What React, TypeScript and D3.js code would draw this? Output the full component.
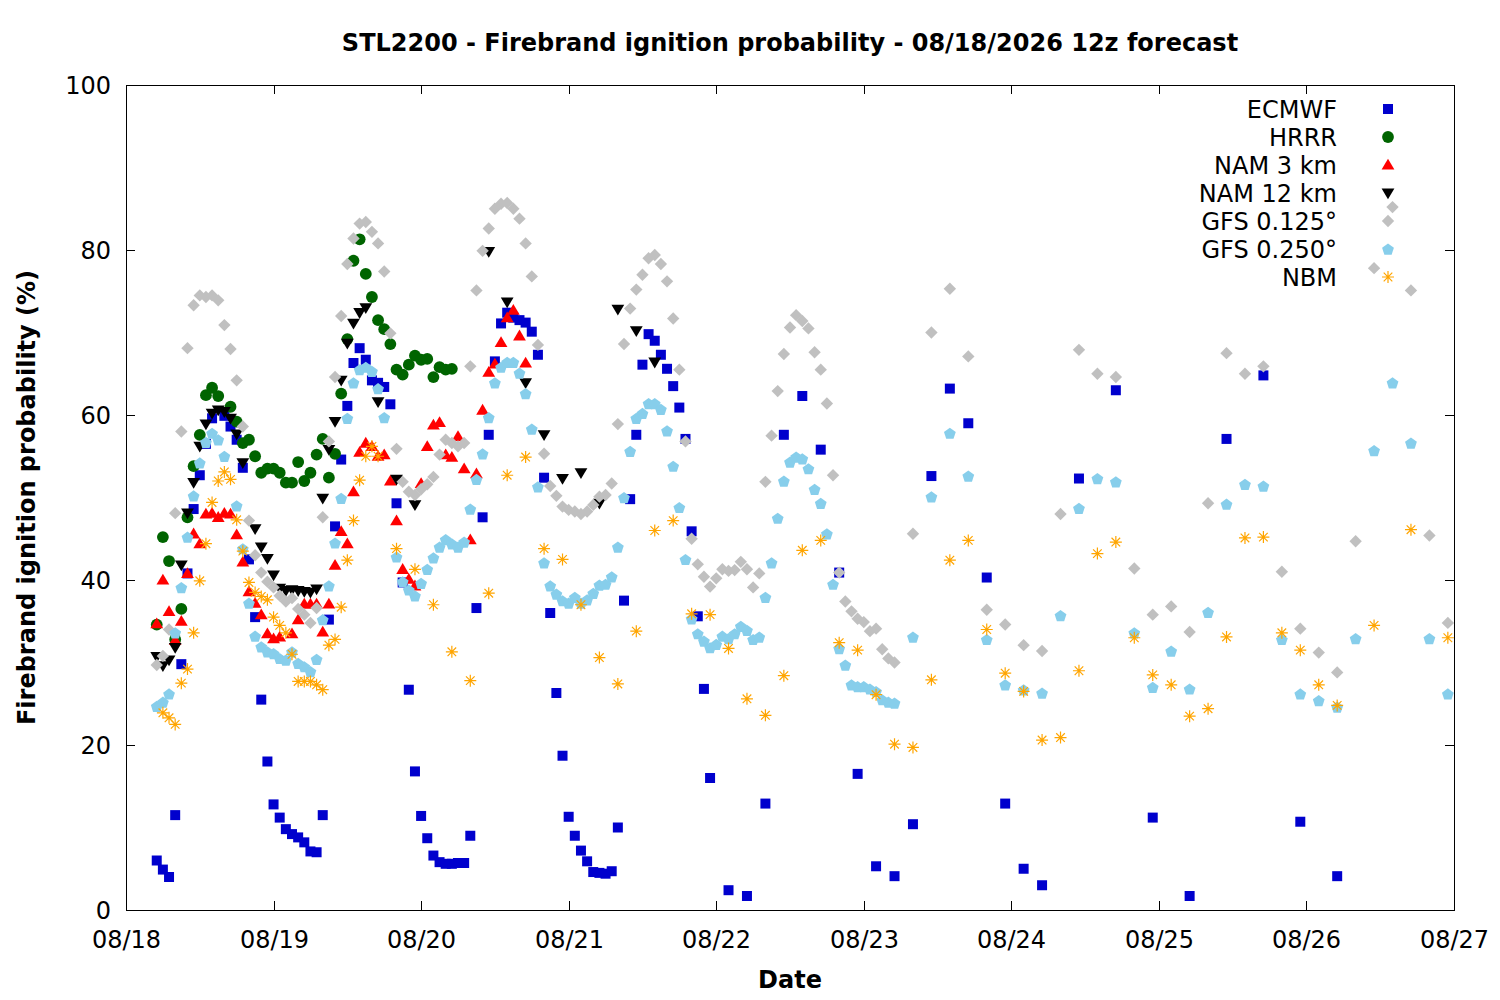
import React, { useEffect, useRef } from 'react';
import * as d3 from 'd3';

// hours after 08/18 00:00, value in %
const ecmwf: [number, number][] = [
  [5, 6.0], [6, 4.9], [7, 4.0], [8, 11.5], [9, 29.8], [10, 40.8], [11, 48.6], [12, 52.7], [13, 56.5], [14, 59.6],
  [16, 59.9], [17, 58.6], [18, 57.0], [19, 53.6], [20, 42.5], [21, 35.5], [22, 25.5], [23, 18.0], [24, 12.8],
  [25, 11.2], [26, 9.8], [27, 9.2], [28, 8.8], [29, 8.2], [30, 7.1], [31, 7.0], [32, 11.5], [33, 35.2], [34, 46.5],
  [35, 54.6], [36, 61.1], [37, 66.3], [38, 68.1], [39, 66.7], [40, 64.2], [41, 63.9], [42, 63.4], [43, 61.3],
  [44, 49.3], [45, 39.7], [46, 26.7], [47, 16.8], [48, 11.4], [49, 8.7], [50, 6.6], [51, 5.8], [52, 5.6], [53, 5.6],
  [54, 5.7], [55, 5.7], [56, 9.0], [57, 36.6], [58, 47.6], [59, 57.6], [60, 66.5], [61, 71.1], [62, 72.4], [63, 71.8],
  [64, 71.5], [65, 71.2], [66, 70.1], [67, 67.3], [68, 52.4], [69, 36.0], [70, 26.3], [71, 18.7], [72, 11.3], [73, 9.0],
  [74, 7.2], [75, 5.9], [76, 4.6], [77, 4.5], [78, 4.4], [79, 4.7], [80, 10.0], [81, 37.5], [82, 49.8], [83, 57.6],
  [84, 66.1], [85, 69.8], [86, 69.0], [87, 67.3], [88, 65.6], [89, 63.5], [90, 60.9], [91, 57.1], [92, 45.9], [93, 35.6],
  [94, 26.8], [95, 16.0], [98, 2.4], [101, 1.7], [104, 12.9], [107, 57.6], [110, 62.3], [113, 55.8], [116, 40.9],
  [119, 16.5], [122, 5.3], [125, 4.1], [128, 10.4], [131, 52.6], [134, 63.2], [137, 59.0], [140, 40.3], [143, 12.9],
  [146, 5.0], [149, 3.0], [155, 52.3], [161, 63.0], [167, 11.2], [173, 1.7], [179, 57.1], [185, 64.8], [191, 10.7], [197, 4.1],
];

const hrrr: [number, number][] = [
  [5, 34.6], [6, 45.2], [7, 42.3], [8, 32.8], [9, 36.5], [10, 47.6], [11, 53.8], [12, 57.6], [13, 62.4], [14, 63.3],
  [15, 62.3], [17, 61.0], [18, 59.2], [19, 56.6], [20, 57.0], [21, 55.0], [22, 53.0], [23, 53.5], [24, 53.5], [25, 53.0],
  [26, 51.8], [27, 51.8], [28, 54.3], [29, 52.0], [30, 53.0], [31, 55.2], [32, 57.1], [33, 52.4], [34, 55.3], [35, 62.6],
  [36, 69.2], [37, 78.7], [38, 81.3], [39, 77.1], [40, 74.3], [41, 71.5], [42, 70.4], [43, 68.6], [44, 65.5], [45, 64.9],
  [46, 66.1], [47, 67.2], [48, 66.7], [49, 66.8], [50, 64.6], [51, 65.8], [52, 65.5], [53, 65.6],
];

const nam3: [number, number][] = [
  [5, 34.7], [6, 40.0], [7, 36.2], [8, 32.7], [9, 35.0], [10, 40.8], [11, 45.6], [12, 44.4], [13, 48.0], [14, 48.1],
  [15, 47.6], [16, 48.1], [17, 48.0], [18, 45.5], [19, 42.2], [20, 38.6], [21, 37.2], [22, 35.8], [23, 33.5], [24, 32.9],
  [25, 33.1], [27, 33.5], [28, 35.2], [29, 37.1], [30, 37.1], [31, 37.1], [32, 33.7], [33, 37.1], [34, 41.8], [35, 45.9],
  [36, 44.4], [37, 50.7], [38, 55.5], [39, 56.6], [40, 56.2], [41, 55.0], [42, 55.2], [43, 52.0], [44, 47.2], [45, 41.3],
  [46, 40.1], [47, 39.3], [48, 51.7], [49, 56.2], [50, 58.8], [51, 59.1], [52, 55.2], [53, 54.9], [54, 57.4], [55, 53.5],
  [56, 44.9], [57, 52.9], [58, 60.6], [59, 65.2], [60, 66.2], [61, 68.8], [62, 71.8], [63, 72.7], [64, 69.6], [65, 66.3],
];

const nam12: [number, number][] = [
  [5, 30.7], [6, 29.6], [7, 30.3], [8, 31.8], [9, 41.8], [10, 48.1], [11, 51.8], [12, 56.2], [13, 58.9], [14, 60.2],
  [15, 60.6], [16, 60.4], [17, 59.6], [18, 57.7], [19, 54.2], [21, 46.2], [22, 44.0], [23, 42.6], [24, 40.6], [25, 39.0],
  [26, 38.7], [27, 38.8], [28, 38.7], [29, 38.6], [30, 38.5], [31, 38.9], [32, 49.9], [33, 55.8], [34, 59.2], [35, 64.2],
  [36, 68.7], [37, 71.1], [38, 72.4], [39, 73.0], [41, 61.6], [44, 52.2], [47, 49.1], [59, 79.8], [62, 73.7], [65, 63.9],
  [68, 57.6], [71, 52.3], [74, 53.0], [77, 49.3], [80, 72.8], [83, 70.2], [86, 66.4],
];

const gfs0125: [number, number][] = [
  [5, 29.7], [6, 30.8], [7, 34.0], [8, 48.1], [9, 58.0], [10, 68.1], [11, 73.3], [12, 74.5], [13, 74.3], [14, 74.5],
  [15, 73.9], [16, 70.9], [17, 68.0], [18, 64.2], [19, 58.6], [20, 47.2], [21, 43.0], [22, 40.9], [23, 39.8], [24, 39.1],
  [25, 38.1], [26, 37.4], [27, 37.8], [28, 36.5], [29, 35.8], [30, 34.8], [31, 36.6], [32, 47.6], [33, 56.8], [34, 64.6],
  [35, 72.0], [36, 78.3], [37, 81.4], [38, 83.2], [39, 83.4], [40, 82.2], [41, 80.8], [42, 77.4], [43, 69.9], [44, 55.9],
  [45, 51.9], [46, 50.7], [47, 50.3], [48, 51.0], [49, 51.6], [50, 52.5], [51, 55.2], [52, 57.0], [53, 56.6], [54, 56.2],
  [55, 56.6], [56, 65.9], [57, 75.1], [58, 79.9], [59, 82.6], [60, 85.0], [61, 85.6], [62, 85.7], [63, 85.0], [64, 83.8],
  [65, 80.8], [66, 76.8], [67, 68.5], [68, 55.3], [69, 51.4], [70, 50.2], [71, 48.9], [72, 48.5], [73, 48.3], [74, 48.0],
  [75, 48.3], [76, 49.1], [77, 50.1], [78, 50.3], [79, 51.7], [80, 58.9], [81, 68.6], [82, 72.9], [83, 75.2], [84, 77.0],
  [85, 79.0], [86, 79.4], [87, 78.3], [88, 76.2], [89, 71.7], [90, 65.5], [91, 56.8], [92, 45.0], [93, 41.9], [94, 40.4],
  [95, 39.2], [96, 40.2], [97, 41.3], [98, 41.1], [99, 41.2], [100, 42.2], [101, 41.3], [102, 39.1], [103, 40.8], [104, 51.9],
  [105, 57.5], [106, 62.9], [107, 67.4], [108, 70.6], [109, 72.1], [110, 71.4], [111, 70.5], [112, 67.6], [113, 65.5],
  [114, 61.4], [115, 52.7], [116, 40.9], [117, 37.4], [118, 36.2], [119, 35.3], [120, 34.9], [121, 33.8], [122, 34.1],
  [123, 31.6], [124, 30.5], [125, 30.0], [128, 45.6], [131, 70.0], [134, 75.3], [137, 67.1], [140, 36.4], [143, 34.6],
  [146, 32.1], [149, 31.4], [152, 48.0], [155, 67.9], [158, 65.0], [161, 64.6], [164, 41.4], [167, 35.8], [170, 36.8],
  [173, 33.7], [176, 49.3], [179, 67.5], [182, 65.0], [185, 65.9], [188, 41.0], [191, 34.1], [194, 31.2], [197, 28.8],
  [200, 44.7], [203, 77.8], [206, 85.2], [209, 75.1], [212, 45.4], [215, 34.8],
];

const gfs0250: [number, number][] = [
  [5, 24.7], [6, 25.2], [7, 26.2], [8, 33.6], [9, 39.1], [10, 45.2], [11, 50.2], [12, 54.2], [13, 56.7], [14, 57.8],
  [15, 57.0], [16, 55.0], [18, 49.0], [19, 43.8], [20, 37.2], [21, 33.2], [22, 31.9], [23, 31.3], [24, 31.1], [25, 30.5],
  [26, 30.3], [27, 31.3], [28, 29.9], [29, 29.5], [30, 28.9], [31, 30.4], [32, 35.2], [33, 39.3], [34, 44.5], [35, 49.9],
  [36, 59.6], [37, 63.9], [38, 65.5], [39, 65.8], [40, 65.3], [41, 63.2], [42, 59.7], [44, 42.8], [45, 39.8], [46, 38.8],
  [47, 38.1], [48, 39.6], [49, 41.3], [50, 42.7], [51, 44.0], [52, 44.9], [53, 44.4], [54, 44.0], [55, 44.6], [56, 48.6],
  [57, 52.2], [58, 55.3], [59, 59.7], [60, 63.9], [61, 65.8], [62, 66.4], [63, 66.4], [64, 65.1], [65, 62.6], [66, 58.3],
  [67, 51.3], [68, 42.1], [69, 39.3], [70, 38.3], [71, 37.5], [72, 37.2], [73, 37.9], [74, 37.2], [75, 37.6], [76, 38.4],
  [77, 39.4], [78, 39.5], [79, 40.4], [80, 44.0], [81, 50.0], [82, 55.6], [83, 59.6], [84, 60.2], [85, 61.4], [86, 61.4],
  [87, 60.7], [88, 58.1], [89, 53.8], [90, 48.8], [91, 42.5], [92, 35.3], [93, 33.5], [94, 32.6], [95, 31.8], [96, 32.2],
  [97, 33.2], [98, 32.9], [99, 33.5], [100, 34.4], [101, 33.9], [102, 32.8], [103, 33.1], [104, 37.9], [105, 42.1],
  [106, 47.5], [107, 52.0], [108, 54.3], [109, 54.9], [110, 54.7], [111, 53.5], [112, 51.0], [113, 49.3], [114, 45.6],
  [115, 39.5], [116, 31.7], [117, 29.7], [118, 27.3], [119, 27.1], [120, 27.1], [121, 26.8], [122, 26.5], [123, 25.5],
  [124, 25.2], [125, 25.1], [128, 33.1], [131, 50.1], [134, 57.8], [137, 52.6], [140, 32.8], [143, 27.3], [146, 26.7],
  [149, 26.3], [152, 35.7], [155, 48.7], [158, 52.3], [161, 51.9], [164, 33.6], [167, 27.0], [170, 31.4], [173, 26.8],
  [176, 36.1], [179, 49.2], [182, 51.6], [185, 51.4], [188, 32.8], [191, 26.2], [194, 25.4], [197, 24.6], [200, 32.9],
  [203, 55.7], [206, 63.9], [209, 56.6], [212, 32.9], [215, 26.2],
];

const nbm: [number, number][] = [
  [6, 23.9], [7, 23.3], [8, 22.5], [9, 27.5], [10, 29.2], [11, 33.6], [12, 39.9], [13, 44.4], [14, 49.4], [15, 52.0],
  [16, 53.1], [17, 52.2], [18, 47.3], [19, 43.5], [20, 39.7], [21, 38.5], [22, 38.0], [23, 37.6], [24, 35.5], [25, 34.5],
  [26, 33.6], [27, 31.0], [28, 27.7], [29, 27.7], [30, 27.7], [31, 27.3], [32, 26.7], [33, 32.1], [34, 32.8], [35, 36.7],
  [36, 42.4], [37, 47.2], [38, 52.1], [39, 55.0], [40, 56.2], [41, 55.0], [44, 43.8], [47, 41.3], [50, 37.0], [53, 31.3],
  [56, 27.8], [59, 38.4], [62, 52.7], [65, 54.9], [68, 43.8], [71, 42.5], [74, 37.0], [77, 30.6], [80, 27.4], [83, 33.8],
  [86, 46.0], [89, 47.2], [92, 35.9], [95, 35.8], [98, 31.7], [101, 25.6], [104, 23.6], [107, 28.4], [110, 43.6],
  [113, 44.8], [116, 32.4], [119, 31.5], [122, 26.1], [125, 20.1], [128, 19.7], [131, 27.9], [134, 42.4], [137, 44.8],
  [140, 34.0], [143, 28.7], [146, 26.5], [149, 20.6], [152, 20.9], [155, 29.0], [158, 43.2], [161, 44.6], [164, 33.0],
  [167, 28.5], [170, 27.3], [173, 23.5], [176, 24.4], [179, 33.1], [182, 45.1], [185, 45.2], [188, 33.6], [191, 31.5],
  [194, 27.3], [197, 24.8], [203, 34.5], [209, 46.1], [215, 33.0],
];

const seriesNames = ['ECMWF', 'HRRR', 'NAM 3 km', 'NAM 12 km', 'GFS 0.125°', 'GFS 0.250°', 'NBM'];
const seriesData = [ecmwf, hrrr, nam3, nam12, gfs0125, gfs0250, nbm];
const seriesColors = ['#0000cd', '#006400', '#ff0000', '#000000', '#c0c0c0', '#87ceeb', '#ffa500'];
const seriesMarkers = ['square', 'circle', 'triUp', 'triDown', 'diamond', 'pentagon', 'asterisk'];

const yTicks = [0, 20, 40, 60, 80, 100];
const START = Date.UTC(2026, 7, 18);
const END = Date.UTC(2026, 7, 27);

const FONT = "'DejaVu Sans', sans-serif";
const FS = '24px';

function markerPath(kind: string): string {
  switch (kind) {
    case 'square':
      return 'M-5,-5H5V5H-5Z';
    case 'circle':
      return 'M5.9,0A5.9,5.9 0 1,1 -5.9,0A5.9,5.9 0 1,1 5.9,0Z';
    case 'triUp':
      return 'M0,-6.2L6.4,4.6L-6.4,4.6Z';
    case 'triDown':
      return 'M0,6.2L6.4,-4.6L-6.4,-4.6Z';
    case 'diamond':
      return 'M0,-6.2L6.2,0L0,6.2L-6.2,0Z';
    case 'pentagon': {
      const pts = d3.range(5).map(i => {
        const a = -Math.PI / 2 + (i * 2 * Math.PI) / 5;
        return [6.2 * Math.cos(a), 6.2 * Math.sin(a) + 0.7];
      });
      return 'M' + pts.map(p => p.join(',')).join('L') + 'Z';
    }
    case 'asterisk':
      return 'M-6,0H6M0,-6V6M-4.3,-4.3L4.3,4.3M-4.3,4.3L4.3,-4.3';
    default:
      return '';
  }
}

const App: React.FC = () => {
  const svgRef = useRef<SVGSVGElement>(null);

  useEffect(() => {
    if (!svgRef.current) return;
    const svg = d3.select(svgRef.current);
    svg.selectAll('*').remove();

    const left = 126, right = 1454, top = 85, bottom = 910;

    const x = d3.scaleUtc().domain([new Date(START), new Date(END)]).range([left, right]);
    const y = d3.scaleLinear().domain([0, 100]).range([bottom, top]);
    const hourToDate = (h: number) => new Date(START + h * 3600 * 1000);

    svg.append('rect').attr('width', 1500).attr('height', 1000).attr('fill', 'white');

    // title
    svg.append('text')
      .attr('x', 790).attr('y', 51)
      .attr('text-anchor', 'middle')
      .style('font-family', FONT).style('font-size', FS).style('font-weight', 'bold')
      .text('STL2200 - Firebrand ignition probability - 08/18/2026 12z forecast');

    // axis titles
    svg.append('text')
      .attr('x', 790).attr('y', 988)
      .attr('text-anchor', 'middle')
      .style('font-family', FONT).style('font-size', FS).style('font-weight', 'bold')
      .text('Date');

    svg.append('text')
      .attr('transform', `translate(35, ${(top + bottom) / 2}) rotate(-90)`)
      .attr('text-anchor', 'middle')
      .style('font-family', FONT).style('font-size', FS).style('font-weight', 'bold')
      .text('Firebrand ignition probability (%)');

    const axes = svg.append('g').attr('stroke', 'black').attr('stroke-width', 1).attr('shape-rendering', 'crispEdges');

    // y ticks both sides
    yTicks.forEach(t => {
      const yy = Math.round(y(t)) + 0.5;
      axes.append('line').attr('x1', left).attr('x2', left + 9).attr('y1', yy).attr('y2', yy);
      axes.append('line').attr('x1', right - 9).attr('x2', right).attr('y1', yy).attr('y2', yy);
      svg.append('text')
        .attr('x', 111).attr('y', yy + 8.5)
        .attr('text-anchor', 'end')
        .style('font-family', FONT).style('font-size', FS)
        .text(String(t));
    });

    // x ticks both sides
    const days = d3.utcDay.range(new Date(START), new Date(END + 1));
    const fmt = d3.utcFormat('%m/%d');
    days.forEach(d => {
      const xx = Math.round(x(d)) + 0.5;
      axes.append('line').attr('x1', xx).attr('x2', xx).attr('y1', bottom).attr('y2', bottom - 9);
      axes.append('line').attr('x1', xx).attr('x2', xx).attr('y1', top).attr('y2', top + 9);
      svg.append('text')
        .attr('x', xx).attr('y', 948)
        .attr('text-anchor', 'middle')
        .style('font-family', FONT).style('font-size', FS)
        .text(fmt(d));
    });

    // frame
    axes.append('rect')
      .attr('x', left + 0.5).attr('y', top + 0.5)
      .attr('width', right - left).attr('height', bottom - top)
      .attr('fill', 'none');

    // points, drawn in legend order
    seriesData.forEach((data, i) => {
      const kind = seriesMarkers[i];
      const color = seriesColors[i];
      const isStroke = kind === 'asterisk';
      svg.append('g')
        .selectAll('path')
        .data(data)
        .enter().append('path')
        .attr('d', markerPath(kind))
        .attr('transform', d => `translate(${x(hourToDate(d[0]))},${y(d[1])})`)
        .attr('fill', isStroke ? 'none' : color)
        .attr('stroke', isStroke ? color : 'none')
        .attr('stroke-width', isStroke ? 1.2 : 0);
    });

    // legend
    const legend = svg.append('g');
    seriesNames.forEach((name, i) => {
      const yy = 109 + i * 28;
      legend.append('text')
        .attr('x', 1337).attr('y', yy + 8.5)
        .attr('text-anchor', 'end')
        .style('font-family', FONT).style('font-size', FS)
        .text(name);
      const kind = seriesMarkers[i];
      const isStroke = kind === 'asterisk';
      legend.append('path')
        .attr('d', markerPath(kind))
        .attr('transform', `translate(1388,${yy})`)
        .attr('fill', isStroke ? 'none' : seriesColors[i])
        .attr('stroke', isStroke ? seriesColors[i] : 'none')
        .attr('stroke-width', isStroke ? 1.2 : 0);
    });
  }, []);

  return (
    <svg
      ref={svgRef}
      width={1500}
      height={1000}
      style={{ position: 'absolute', left: 0, top: 0 }}
    />
  );
};

export default App;
